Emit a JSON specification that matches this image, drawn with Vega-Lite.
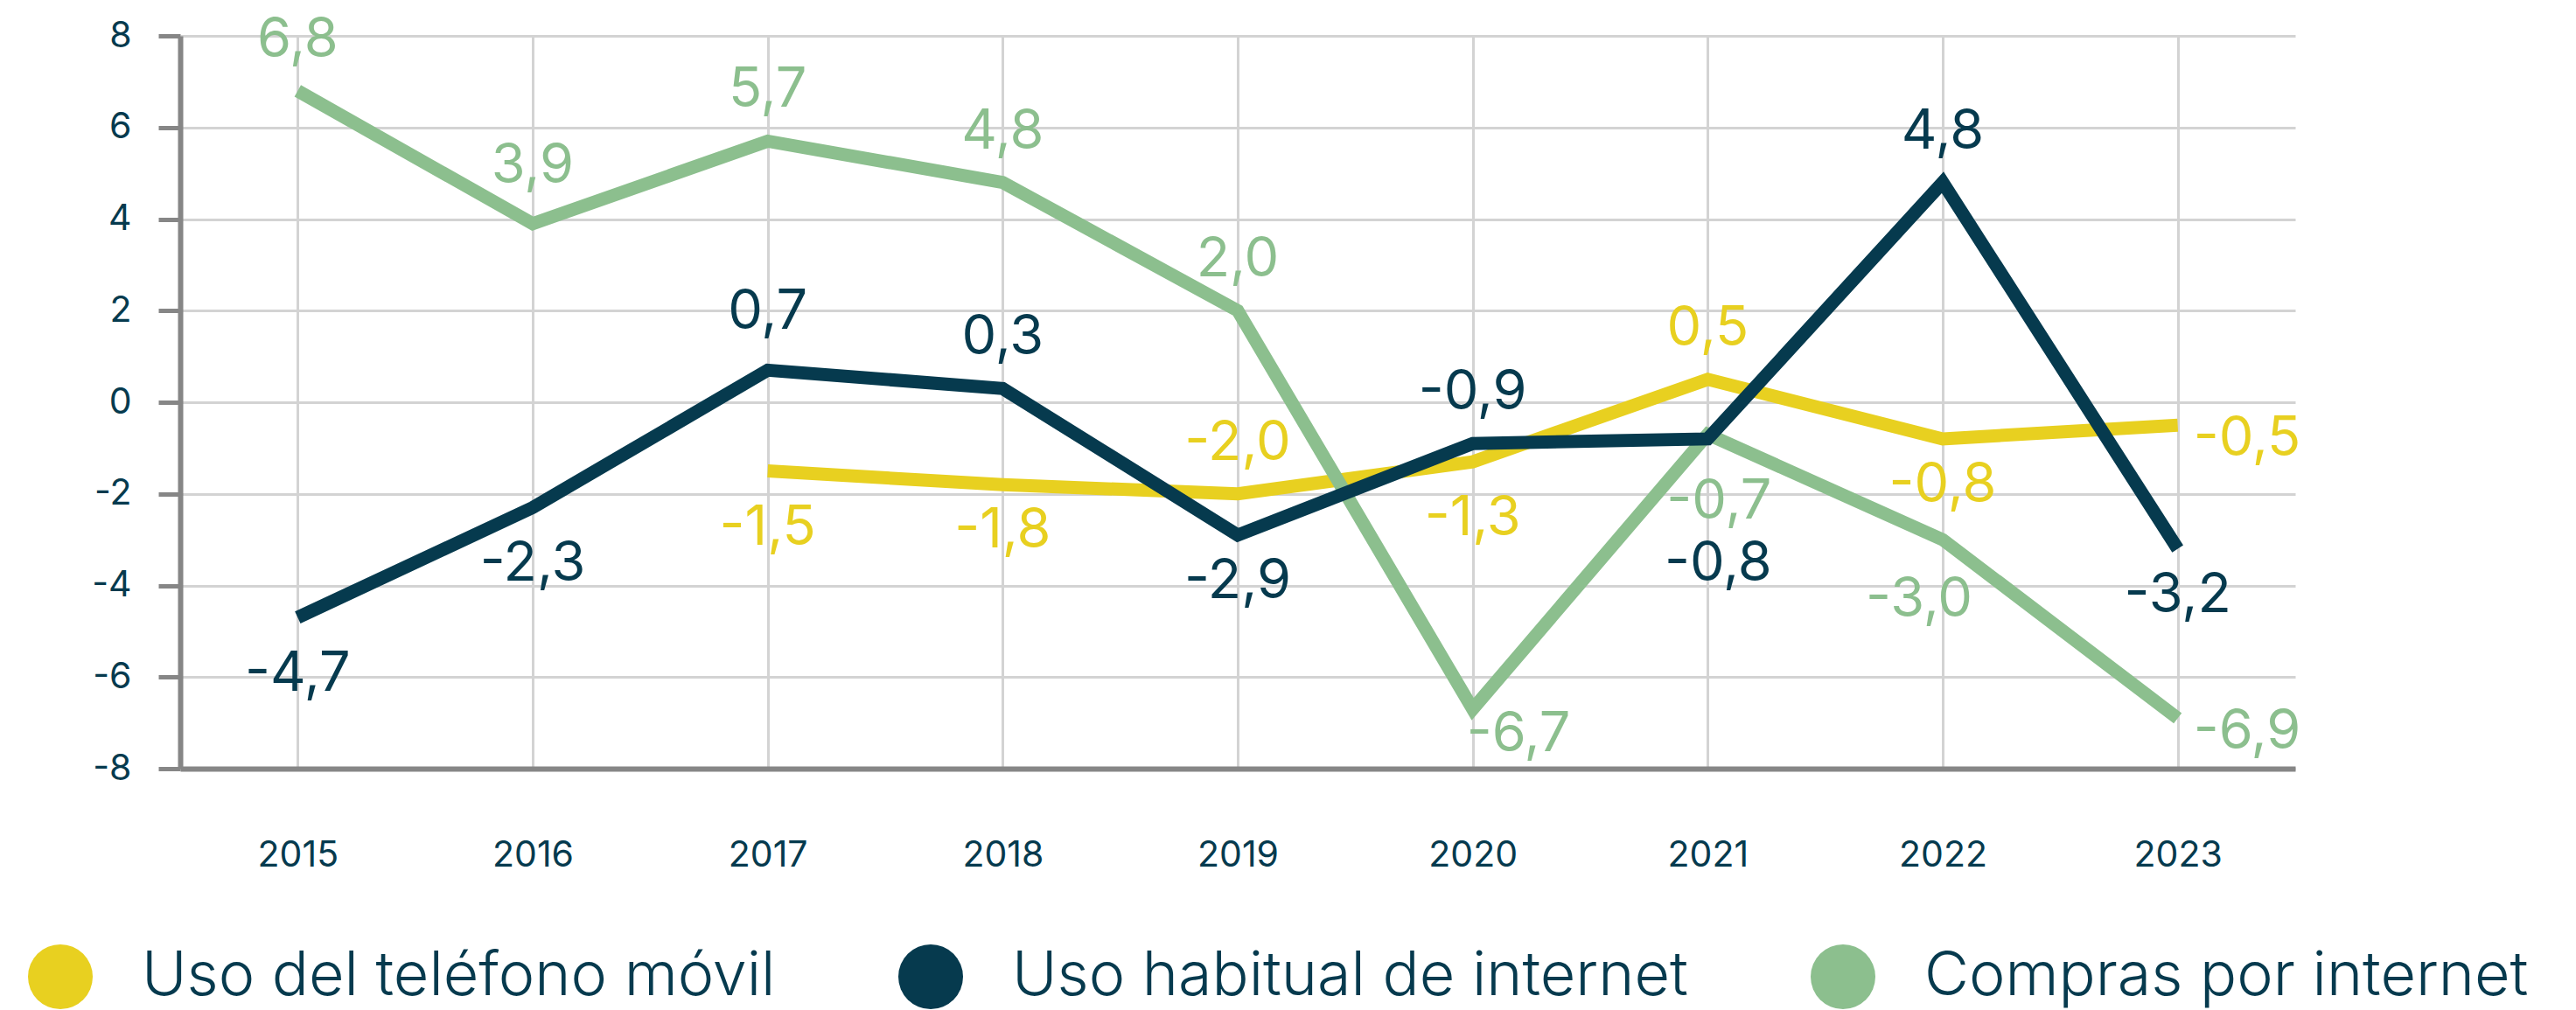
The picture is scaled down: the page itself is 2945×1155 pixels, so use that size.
{
  "$schema": "https://vega.github.io/schema/vega-lite/v6.json",
  "width": 2418,
  "height": 838,
  "autosize": "none",
  "padding": {"left": 206, "top": 41, "right": 321, "bottom": 276},
  "background": "white",
  "config": {
    "view": {"stroke": null},
    "font": "Inter",
    "text": {"fontSize": 63},
    "locale": {"number": {"decimal": ",", "thousands": ".", "grouping": [3], "currency": ["", " €"], "minus": "-"}}
  },
  "data": {"values": [
    {"serie": "Uso del teléfono móvil", "anio": "2017", "valor": -1.5},
    {"serie": "Uso del teléfono móvil", "anio": "2018", "valor": -1.8},
    {"serie": "Uso del teléfono móvil", "anio": "2019", "valor": -2.0},
    {"serie": "Uso del teléfono móvil", "anio": "2020", "valor": -1.3},
    {"serie": "Uso del teléfono móvil", "anio": "2021", "valor": 0.5},
    {"serie": "Uso del teléfono móvil", "anio": "2022", "valor": -0.8},
    {"serie": "Uso del teléfono móvil", "anio": "2023", "valor": -0.5},
    {"serie": "Compras por internet", "anio": "2015", "valor": 6.8},
    {"serie": "Compras por internet", "anio": "2016", "valor": 3.9},
    {"serie": "Compras por internet", "anio": "2017", "valor": 5.7},
    {"serie": "Compras por internet", "anio": "2018", "valor": 4.8},
    {"serie": "Compras por internet", "anio": "2019", "valor": 2.0},
    {"serie": "Compras por internet", "anio": "2020", "valor": -6.7},
    {"serie": "Compras por internet", "anio": "2021", "valor": -0.7},
    {"serie": "Compras por internet", "anio": "2022", "valor": -3.0},
    {"serie": "Compras por internet", "anio": "2023", "valor": -6.9},
    {"serie": "Uso habitual de internet", "anio": "2015", "valor": -4.7},
    {"serie": "Uso habitual de internet", "anio": "2016", "valor": -2.3},
    {"serie": "Uso habitual de internet", "anio": "2017", "valor": 0.7},
    {"serie": "Uso habitual de internet", "anio": "2018", "valor": 0.3},
    {"serie": "Uso habitual de internet", "anio": "2019", "valor": -2.9},
    {"serie": "Uso habitual de internet", "anio": "2020", "valor": -0.9},
    {"serie": "Uso habitual de internet", "anio": "2021", "valor": -0.8},
    {"serie": "Uso habitual de internet", "anio": "2022", "valor": 4.8},
    {"serie": "Uso habitual de internet", "anio": "2023", "valor": -3.2}
  ]},
  "encoding": {
    "x": {
      "field": "anio", "type": "ordinal", "sort": "ascending",
      "scale": {"type": "point", "padding": 0.5},
      "axis": {
        "title": null, "labelAngle": 0, "ticks": false, "tickSize": 0,
        "labelPadding": 79, "labelFontSize": 41, "labelColor": "#063A4E", "labelFont": "Inter",
        "domainColor": "#868686", "domainWidth": 6,
        "grid": true, "gridColor": "#D3D3D3", "gridWidth": 3
      }
    },
    "y": {
      "field": "valor", "type": "quantitative",
      "scale": {"domain": [-8, 8], "nice": false},
      "axis": {
        "title": null, "values": [-8, -6, -4, -2, 0, 2, 4, 6, 8], "format": "d",
        "labelFontSize": 41, "labelColor": "#063A4E", "labelFont": "Inter", "labelPadding": 31,
        "tickSize": 25, "tickWidth": 5, "tickColor": "#868686",
        "domainColor": "#868686", "domainWidth": 6,
        "grid": true, "gridColor": "#D3D3D3", "gridWidth": 3
      }
    },
    "color": {
      "field": "serie", "type": "nominal",
      "scale": {
        "domain": ["Uso del teléfono móvil", "Uso habitual de internet", "Compras por internet"],
        "range": ["#E8D020", "#063A4E", "#8CBF8E"]
      },
      "legend": null
    }
  },
  "layer": [
    {
      "mark": {"type": "line", "strokeWidth": 15},
      "encoding": {
        "detail": {"field": "serie"},
        "order": {"field": "anio", "type": "ordinal"},
        "color": {
          "field": "serie", "type": "nominal",
          "legend": {
            "title": null, "orient": "none", "direction": "horizontal",
            "legendX": -174, "legendY": 1039, "padding": 0,
            "symbolType": "circle", "symbolSize": 5476, "symbolStrokeWidth": 0,
            "labelFontSize": 70, "labelFont": "Inter", "labelFontWeight": 300, "labelColor": "#063A4E",
            "labelOffset": 56, "columnPadding": 140, "labelLimit": 1200,
            "encode": {"symbols": {"update": {"fill": {"scale": "color", "field": "value"}, "opacity": {"value": 1}, "strokeWidth": {"value": 0}}}}
          }
        }
      }
    },
    {
      "transform": [{"filter": "(datum.serie==='Compras por internet' && indexof(['2015','2017','2018','2019'], datum.anio)>=0) || (datum.serie==='Uso habitual de internet' && indexof(['2018','2020','2022'], datum.anio)>=0) || (datum.serie==='Uso del teléfono móvil' && indexof(['2019','2021'], datum.anio)>=0)"}],
      "mark": {"type": "text", "baseline": "middle", "align": "center", "dy": -58},
      "encoding": {"text": {"field": "valor", "type": "quantitative", "format": ".1f"}}
    },
    {
      "transform": [{"filter": "(datum.serie==='Compras por internet' && datum.anio==='2016') || (datum.serie==='Uso habitual de internet' && datum.anio==='2017')"}],
      "mark": {"type": "text", "baseline": "middle", "align": "center", "dy": -66},
      "encoding": {"text": {"field": "valor", "type": "quantitative", "format": ".1f"}}
    },
    {
      "transform": [{"filter": "(datum.serie==='Uso habitual de internet' && indexof(['2015','2016'], datum.anio)>=0) || (datum.serie==='Uso del teléfono móvil' && indexof(['2017','2020'], datum.anio)>=0)"}],
      "mark": {"type": "text", "baseline": "middle", "align": "center", "dy": 65},
      "encoding": {"text": {"field": "valor", "type": "quantitative", "format": ".1f"}}
    },
    {
      "transform": [{"filter": "(datum.serie==='Uso habitual de internet' && indexof(['2019','2023'], datum.anio)>=0) || (datum.serie==='Uso del teléfono móvil' && indexof(['2018','2022'], datum.anio)>=0)"}],
      "mark": {"type": "text", "baseline": "middle", "align": "center", "dy": 53},
      "encoding": {"text": {"field": "valor", "type": "quantitative", "format": ".1f"}}
    },
    {
      "transform": [{"filter": "datum.serie==='Compras por internet' && datum.anio==='2022'"}],
      "mark": {"type": "text", "baseline": "middle", "align": "center", "dx": -27, "dy": 69},
      "encoding": {"text": {"field": "valor", "type": "quantitative", "format": ".1f"}}
    },
    {
      "transform": [{"filter": "datum.serie==='Compras por internet' && datum.anio==='2021'"}],
      "mark": {"type": "text", "baseline": "middle", "align": "center", "dx": 13, "dy": 77},
      "encoding": {"text": {"field": "valor", "type": "quantitative", "format": ".1f"}}
    },
    {
      "transform": [{"filter": "datum.serie==='Uso habitual de internet' && datum.anio==='2021'"}],
      "mark": {"type": "text", "baseline": "middle", "align": "center", "dx": 12, "dy": 143},
      "encoding": {"text": {"field": "valor", "type": "quantitative", "format": ".1f"}}
    },
    {
      "transform": [{"filter": "datum.anio==='2023' && datum.serie!=='Uso habitual de internet'"}],
      "mark": {"type": "text", "baseline": "middle", "align": "left", "dx": 18, "dy": 16},
      "encoding": {"text": {"field": "valor", "type": "quantitative", "format": ".1f"}}
    },
    {
      "transform": [{"filter": "datum.serie==='Compras por internet' && datum.anio==='2020'"}],
      "mark": {"type": "text", "baseline": "middle", "align": "left", "dx": -7, "dy": 29},
      "encoding": {"text": {"field": "valor", "type": "quantitative", "format": ".1f"}}
    }
  ]
}
